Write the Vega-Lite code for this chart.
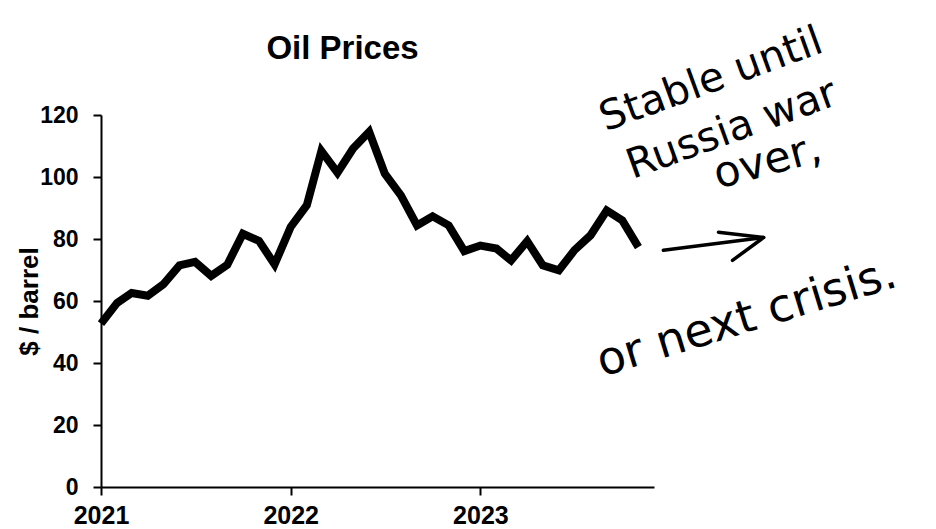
{
  "$schema": "https://vega.github.io/schema/vega-lite/v6.json",
  "autosize": {"type": "none"},
  "padding": {"left": 101, "top": 115, "right": 282, "bottom": 42},
  "width": 553,
  "height": 372,
  "background": "white",
  "title": {
    "text": "Oil Prices",
    "font": "Liberation Sans",
    "fontWeight": "bold",
    "fontSize": 33,
    "color": "black",
    "anchor": "middle",
    "baseline": "alphabetic",
    "dx": -35,
    "offset": -72
  },
  "config": {
    "view": {"stroke": null},
    "axis": {
      "labelFont": "Liberation Sans",
      "labelFontWeight": "bold",
      "labelColor": "black",
      "titleFont": "Liberation Sans",
      "titleFontWeight": "bold",
      "titleColor": "black",
      "domainColor": "black",
      "domainWidth": 2,
      "tickColor": "black",
      "tickWidth": 2,
      "tickSize": 8,
      "grid": false
    }
  },
  "datasets": {
    "prices": [
      {"date": "2021-01-01", "price": 52.7},
      {"date": "2021-02-01", "price": 59.4},
      {"date": "2021-03-01", "price": 62.6},
      {"date": "2021-04-01", "price": 61.7},
      {"date": "2021-05-01", "price": 65.4},
      {"date": "2021-06-01", "price": 71.5},
      {"date": "2021-07-01", "price": 72.6},
      {"date": "2021-08-01", "price": 68.1},
      {"date": "2021-09-01", "price": 71.7},
      {"date": "2021-10-01", "price": 81.7},
      {"date": "2021-11-01", "price": 79.4},
      {"date": "2021-12-01", "price": 71.8},
      {"date": "2022-01-01", "price": 83.9},
      {"date": "2022-02-01", "price": 90.9},
      {"date": "2022-03-01", "price": 108.4},
      {"date": "2022-04-01", "price": 101.4},
      {"date": "2022-05-01", "price": 109.2},
      {"date": "2022-06-01", "price": 114.6},
      {"date": "2022-07-01", "price": 101.1},
      {"date": "2022-08-01", "price": 94.1},
      {"date": "2022-09-01", "price": 84.4},
      {"date": "2022-10-01", "price": 87.3},
      {"date": "2022-11-01", "price": 84.4},
      {"date": "2022-12-01", "price": 76.1},
      {"date": "2023-01-01", "price": 77.9},
      {"date": "2023-02-01", "price": 76.9},
      {"date": "2023-03-01", "price": 73.1},
      {"date": "2023-04-01", "price": 79.3},
      {"date": "2023-05-01", "price": 71.5},
      {"date": "2023-06-01", "price": 69.9},
      {"date": "2023-07-01", "price": 76.4},
      {"date": "2023-08-01", "price": 81.2},
      {"date": "2023-09-01", "price": 89.2},
      {"date": "2023-10-01", "price": 86.0},
      {"date": "2023-11-01", "price": 77.4}
    ],
    "notesTop": [
      {"date": "2024-03-28", "price": 127.6, "label": "Stable until"},
      {"date": "2024-05-07", "price": 111.5, "label": "Russia war"}
    ],
    "notesOver": [
      {"date": "2024-07-13", "price": 100.8, "label": "over,"}
    ],
    "notesBottom": [
      {"date": "2024-06-04", "price": 50.2, "label": "or next crisis."}
    ],
    "arrow": [
      {"part": "shaft", "order": 0, "date": "2023-12-19", "price": 76.4},
      {"part": "shaft", "order": 1, "date": "2024-06-29", "price": 80.5},
      {"part": "head", "order": 0, "date": "2024-04-03", "price": 82.2},
      {"part": "head", "order": 1, "date": "2024-06-29", "price": 80.5},
      {"part": "head", "order": 2, "date": "2024-04-30", "price": 73.1}
    ]
  },
  "layer": [
    {
      "data": {"name": "prices"},
      "mark": {"type": "line", "color": "black", "strokeWidth": 8, "strokeJoin": "miter", "strokeCap": "butt"},
      "encoding": {
        "x": {
          "field": "date",
          "type": "temporal",
          "scale": {"type": "utc", "domain": [{"year": 2021, "month": 1, "date": 1, "utc": true}, {"year": 2023, "month": 12, "date": 1, "utc": true}], "nice": false},
          "axis": {
            "title": null,
            "values": [{"year": 2021, "month": 1, "date": 1, "utc": true}, {"year": 2022, "month": 1, "date": 1, "utc": true}, {"year": 2023, "month": 1, "date": 1, "utc": true}],
            "format": "%Y",
            "labelFontSize": 25,
            "labelPadding": 8,
            "labelFlush": false,
            "labelOverlap": false
          }
        },
        "y": {
          "field": "price",
          "type": "quantitative",
          "scale": {"domain": [0, 120], "nice": false, "zero": true},
          "axis": {"title": "$ / barrel", "values": [0, 20, 40, 60, 80, 100, 120], "labelFontSize": 23, "labelPadding": 15, "titleFontSize": 26, "titlePadding": -3}
        }
      }
    },
    {
      "data": {"name": "arrow"},
      "mark": {"type": "line", "color": "black", "strokeWidth": 3.5, "strokeCap": "round", "strokeJoin": "round"},
      "encoding": {
        "x": {"field": "date", "type": "temporal"},
        "y": {"field": "price", "type": "quantitative"},
        "detail": {"field": "part"},
        "order": {"field": "order"}
      }
    },
    {
      "data": {"name": "notesTop"},
      "mark": {"type": "text", "font": "DejaVu Sans", "fontSize": 41, "angle": -20, "align": "center", "baseline": "alphabetic", "color": "black"},
      "encoding": {
        "x": {"field": "date", "type": "temporal"},
        "y": {"field": "price", "type": "quantitative"},
        "text": {"field": "label"}
      }
    },
    {
      "data": {"name": "notesOver"},
      "mark": {"type": "text", "font": "DejaVu Sans", "fontSize": 43, "angle": -15, "align": "center", "baseline": "alphabetic", "color": "black"},
      "encoding": {
        "x": {"field": "date", "type": "temporal"},
        "y": {"field": "price", "type": "quantitative"},
        "text": {"field": "label"}
      }
    },
    {
      "data": {"name": "notesBottom"},
      "mark": {"type": "text", "font": "DejaVu Sans", "fontSize": 46, "angle": -17, "align": "center", "baseline": "alphabetic", "color": "black"},
      "encoding": {
        "x": {"field": "date", "type": "temporal"},
        "y": {"field": "price", "type": "quantitative"},
        "text": {"field": "label"}
      }
    }
  ]
}
